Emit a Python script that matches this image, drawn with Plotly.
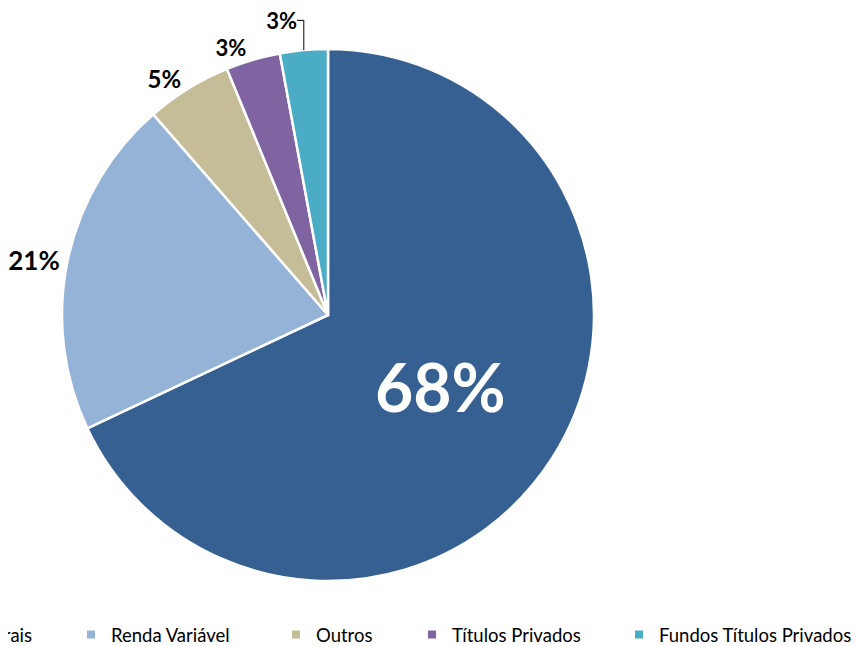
import plotly.graph_objects as go

categories = ["Títulos Federais", "Renda Variável", "Outros", "Títulos Privados", "Fundos Títulos Privados"]
values = [68.0, 20.6, 5.2, 3.3, 2.9]
colors = ["#376092", "#95B3D7", "#C4BD97", "#8064A2", "#4BACC6"]

W, H = 860, 646
cx, cy, r = 320, 307, 266   # domain placement (rendered centre lands ~8px right/down)

sizes = [66, 26, 24, 22, 22]

fig = go.Figure(go.Pie(
    labels=categories,
    values=values,
    sort=False,
    direction="clockwise",
    rotation=0,
    marker=dict(colors=colors, line=dict(color="white", width=2.5)),
    texttemplate="%{percent:.0%}",
    textposition=["inside", "outside", "outside", "outside", "outside"],
    insidetextorientation="horizontal",
    textfont=dict(family="Lato", color=["white", "black", "black", "black", "black"],
                  size=sizes, weight="bold"),
    outsidetextfont=dict(family="Lato", color="black", size=sizes, weight="bold"),
    domain=dict(x=[(cx - r) / W, (cx + r) / W], y=[(H - cy - r) / H, (H - cy + r) / H]),
    hoverinfo="label+percent",
    showlegend=False,
))

# legend entries: one legend per category, placed like the reference's legend row
legend_ids = ["legend", "legend2", "legend3", "legend4", "legend5"]
for name, col, lid in zip(categories, colors, legend_ids):
    fig.add_trace(go.Scatter(
        x=[None], y=[None], mode="markers", name=name,
        marker=dict(symbol="square", size=8, color=col),
        showlegend=True, legend=lid, hoverinfo="skip",
    ))

legend_font = dict(size=18.5, family="Lato", color="black")
text_starts = [None, 112, 317, 453, 660]
ly = 19 / H
legend_layouts = {}
for i, lid in enumerate(legend_ids):
    if i == 0:
        legend_layouts[lid] = dict(x=30 / W, xanchor="right", y=ly, yanchor="middle",
                                   font=legend_font, bgcolor="rgba(0,0,0,0)")
    else:
        legend_layouts[lid] = dict(x=(text_starts[i] - 49) / W, xanchor="left", y=ly,
                                   yanchor="middle", font=legend_font,
                                   bgcolor="rgba(0,0,0,0)")

fig.update_layout(
    width=W, height=H,
    margin=dict(l=0, r=0, t=0, b=0, autoexpand=False),
    paper_bgcolor="white",
    plot_bgcolor="white",
    font=dict(family="Lato", color="black"),
    xaxis=dict(visible=False),
    yaxis=dict(visible=False),
    **legend_layouts,
)

fig.write_html("out.html")
